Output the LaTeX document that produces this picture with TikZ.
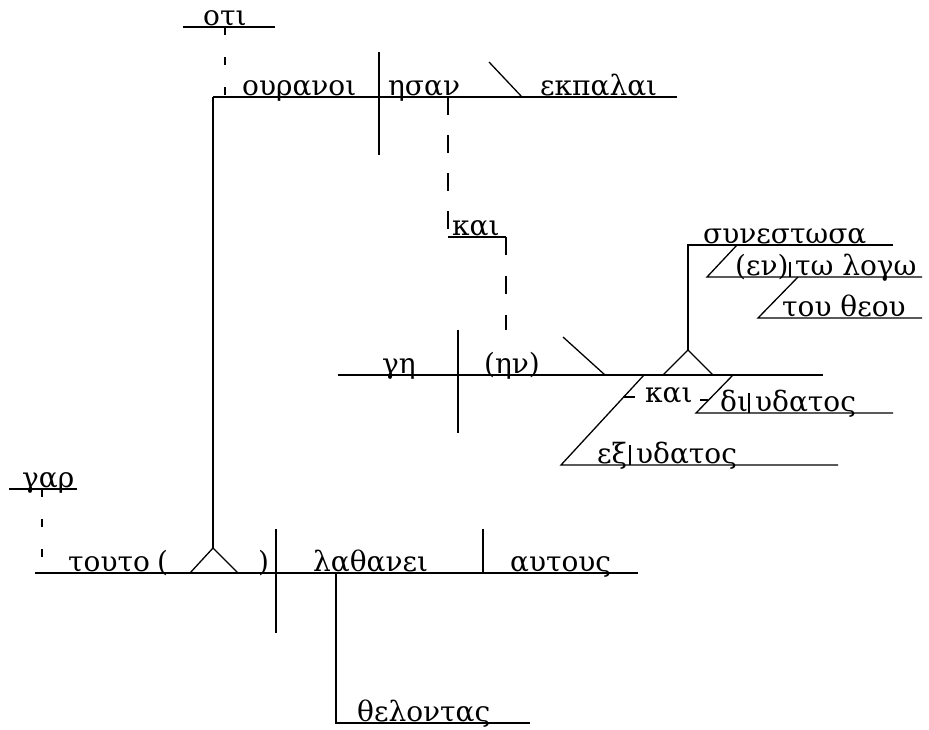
\documentclass[tikz,border=0pt]{standalone}
\usepackage{fontspec}
\setmainfont{DejaVu Serif}
\begin{document}
\begin{tikzpicture}[x=1pt,y=-1pt]
\tikzset{
  rule/.style={line width=1.3pt, line cap=butt},
  shortdash/.style={rule, dash pattern=on 8pt off 22pt},
  longdash/.style={rule, dash pattern=on 18pt off 20pt},
  word/.style={inner sep=0pt, anchor=base west, font=\fontsize{28}{28}\selectfont},
}
\useasboundingbox (0,0) rectangle (929,729);

% ---------- clause: ουρανοι ησαν εκπαλαι ----------
\coordinate (otiL) at (183,27);  \coordinate (otiR) at (275,27);
\coordinate (otiD) at (225,27);  \coordinate (otiE) at (225,97);
\coordinate (ouL) at (213,97);   \coordinate (ouR) at (677,97);
\coordinate (ouDivT) at (379,52); \coordinate (ouDivB) at (379,155);
\coordinate (ekT) at (489,62);   \coordinate (ekB) at (522,97);
\coordinate (esanD) at (448,97); \coordinate (kaiL) at (448,237);
\coordinate (kaiR) at (506,237); \coordinate (kaiE) at (506,330);

\node[word] (oti) at (203,25) {οτι};
\node[word] (ouranoi) at (242,95) {ουρανοι};
\node[word] (esan) at (388,95) {ησαν};
\node[word] (ekpalai) at (540,95) {εκπαλαι};
\node[word] (kai1) at (452,235) {και};

\draw[rule] (otiL) -- (otiR);
\draw[shortdash] (otiD) -- (otiE);
\draw[rule] (ouL) -- (ouR);
\draw[rule] (ouDivT) -- (ouDivB);
\draw[rule] (ekT) -- (ekB);
\draw[longdash] (esanD) -- (kaiL);
\draw[rule] (kaiL) -- (kaiR);
\draw[rule, dash pattern=on 18pt off 21pt] (kaiR) -- (kaiE);

% ---------- clause: γη (ην) ... συνεστωσα ----------
\coordinate (geL) at (338,375);  \coordinate (geR) at (823,375);
\coordinate (geDivT) at (458,330); \coordinate (geDivB) at (458,433);
\coordinate (enT) at (563,337);  \coordinate (enB) at (605,375);
\coordinate (triL) at (663,375); \coordinate (triA) at (688,350);
\coordinate (triR) at (713,375);
\coordinate (synL) at (688,245); \coordinate (synR) at (893,245);
\coordinate (logT) at (737,245); \coordinate (logL) at (707,277);
\coordinate (logR) at (922,277);
\coordinate (enBarT) at (790,262); \coordinate (enBarB) at (790,277);
\coordinate (theT) at (798,277); \coordinate (theL) at (758,318);
\coordinate (theR) at (922,318);
\coordinate (exT) at (644,375);  \coordinate (exL) at (561,465);
\coordinate (exR) at (838,465);
\coordinate (exBarT) at (630,445); \coordinate (exBarB) at (630,465);
\coordinate (diT) at (733,375);  \coordinate (diL) at (696,413);
\coordinate (diR) at (893,413);
\coordinate (diBarT) at (749,393); \coordinate (diBarB) at (749,413);
\coordinate (tick1L) at (623,397); \coordinate (tick1R) at (635,397);
\coordinate (tick2L) at (700,400); \coordinate (tick2R) at (708,400);

\node[word] (ge) at (382,373) {γη};
\node[word] (en) at (484,373) {(ην)};
\node[word] (synestosa) at (703,243) {συνεστωσα};
\node[word] (ev) at (735,275) {(εν)};
\node[word] (tologo) at (795,275) {τω λογω};
\node[word] (toutheou) at (782,316) {του θεου};
\node[word] (kai2) at (645,402) {και};
\node[word] (di) at (720,411) {δι};
\node[word] (hydatos1) at (755,411) {υδατος};
\node[word] (ex) at (597,463) {εξ};
\node[word] (hydatos2) at (636,463) {υδατος};

\draw[rule] (geL) -- (geR);
\draw[rule] (geDivT) -- (geDivB);
\draw[rule] (enT) -- (enB);
\draw[rule] (triL) -- (triA) -- (triR);
\draw[rule] (triA) -- (synL) -- (synR);
\draw[rule] (logT) -- (logL) -- (logR);
\draw[rule] (enBarT) -- (enBarB);
\draw[rule] (theT) -- (theL) -- (theR);
\draw[rule] (exT) -- (exL) -- (exR);
\draw[rule] (exBarT) -- (exBarB);
\draw[rule] (diT) -- (diL) -- (diR);
\draw[rule] (diBarT) -- (diBarB);
\draw[rule] (tick1L) -- (tick1R);
\draw[rule] (tick2L) -- (tick2R);

% ---------- clause: τουτο λαθανει αυτους ----------
\coordinate (garL) at (9,489);   \coordinate (garR) at (77,489);
\coordinate (garD) at (42,489);  \coordinate (garE) at (42,573);
\coordinate (mainL) at (35,573); \coordinate (mainR) at (638,573);
\coordinate (btL) at (190,573);  \coordinate (btA) at (213,548);
\coordinate (btR) at (238,573);
\coordinate (vDivT) at (276,529); \coordinate (vDivB) at (276,633);
\coordinate (oDivT) at (483,529); \coordinate (oDivB) at (483,573);
\coordinate (thL) at (336,573);  \coordinate (thB) at (336,723);
\coordinate (thR) at (530,723);

\node[word] (gar) at (22,487) {γαρ};
\node[word] (touto) at (68,571) {τουτο};
\node[word] (lp) at (157,571) {(};
\node[word] (rp) at (258,571) {)};
\node[word] (lathanei) at (313,571) {λαθανει};
\node[word] (autous) at (510,571) {αυτους};
\node[word] (thelontas) at (357,721) {θελοντας};

\draw[rule] (garL) -- (garR);
\draw[shortdash] (garD) -- (garE);
\draw[rule] (mainL) -- (mainR);
\draw[rule] (btL) -- (btA) -- (btR);
\draw[rule] (btA) -- (ouL);
\draw[rule] (vDivT) -- (vDivB);
\draw[rule] (oDivT) -- (oDivB);
\draw[rule] (thL) -- (thB) -- (thR);
\end{tikzpicture}
\end{document}
